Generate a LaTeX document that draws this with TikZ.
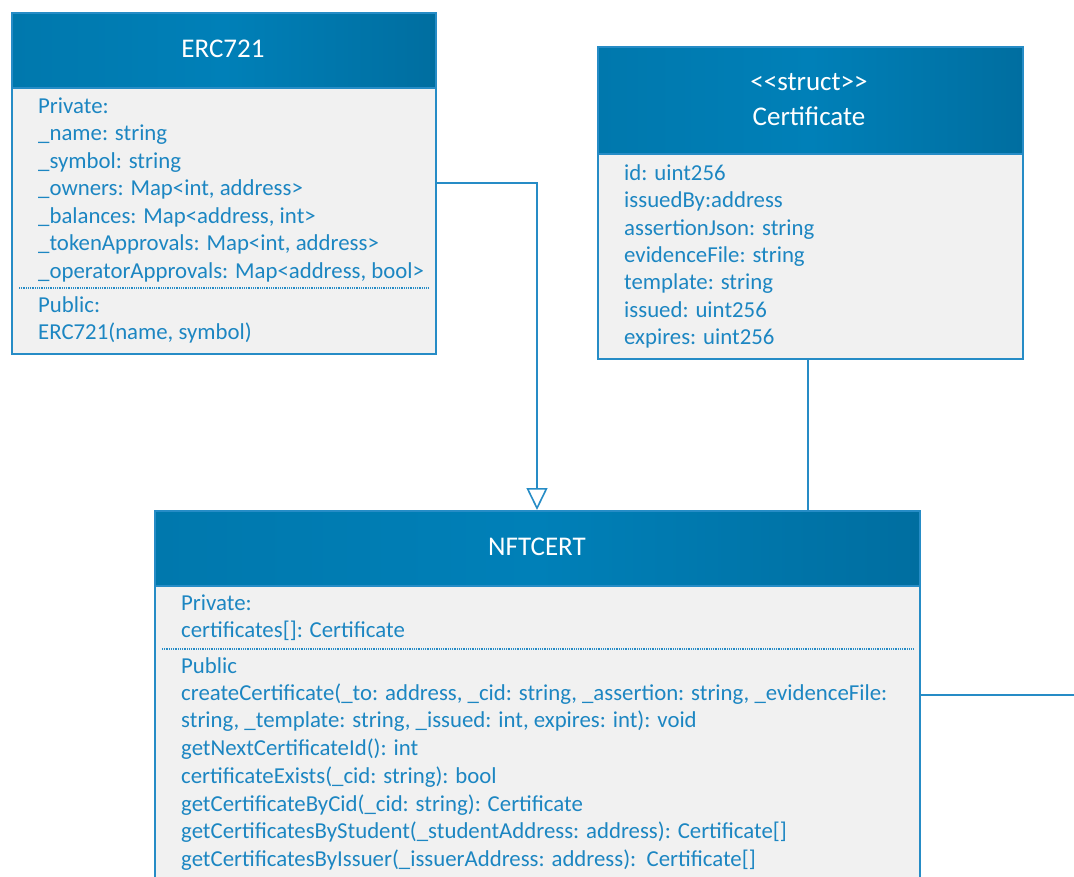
\documentclass[tikz,border=0pt]{standalone}
\usepackage{fontspec}
\setmainfont{Carlito}
\usetikzlibrary{arrows.meta}
\definecolor{umlblue}{RGB}{0,120,173}
\definecolor{umlbluelight}{RGB}{0,128,184}
\definecolor{umlbluedark}{RGB}{0,110,160}
\definecolor{umledge}{RGB}{38,140,198}
\definecolor{umltext}{RGB}{28,134,194}
\definecolor{umlbody}{RGB}{241,241,241}
\tikzset{
  classhead/.style={draw=umledge, line width=1.6pt, left color=umlblue, right color=umlbluedark, middle color=umlbluelight,
    anchor=north west, inner sep=0pt},
  classbody/.style={draw=umledge, line width=1.6pt, fill=umlbody, anchor=north west, inner sep=0pt},
  member/.style={anchor=base west, inner sep=0pt, text=umltext, font=\fontsize{22.8}{27}\selectfont},
  headtext/.style={anchor=base, inner sep=0pt, text=white, font=\fontsize{27}{32}\selectfont},
  sep/.style={draw=umledge, line width=1.5pt, dash pattern=on 0.9pt off 0.9pt},
  link/.style={draw=umledge, line width=1.6pt},
  inherit/.style={link, -{Triangle[open, length=22pt, width=21pt, fill=white]}}
}
\begin{document}
\begin{tikzpicture}[x=1pt, y=-1pt]
\useasboundingbox (0,0) rectangle (1074,876);
\clip (0,0) rectangle (1074,876);
\fill[white] (0,0) rectangle (1074,876);

% ---- ERC721 ----
\node[classbody, minimum width=424pt, minimum height=266pt] (ercB) at (11,87) {};
\node[classhead, minimum width=424pt, minimum height=75pt] (ercH) at (11,12) {};
\node[headtext] (ercT) at (223,57) {ERC721};
\node[member] (erc1) at (38,113) {Private:};
\node[member] (erc2) at (38,140) {\_name: string};
\node[member] (erc3) at (38,168) {\_symbol: string};
\node[member] (erc4) at (38,195) {\_owners: Map<int, address>};
\node[member] (erc5) at (38,223) {\_balances: Map<address, int>};
\node[member] (erc6) at (38,250) {\_tokenApprovals: Map<int, address>};
\node[member] (erc7) at (38,278) {\_operatorApprovals: Map<address, bool>};
\draw[sep] (19,288) -- (428,288);
\node[member] (erc8) at (38,312) {Public:};
\node[member] (erc9) at (38,339) {ERC721(name, symbol)};

% ---- Certificate struct ----
\node[classbody, minimum width=425pt, minimum height=205pt] (cerB) at (597,153) {};
\node[classhead, minimum width=425pt, minimum height=107pt] (cerH) at (597,46) {};
\node[headtext] (cerS) at (809,90) {<{}<struct>{}>};
\node[headtext] (cerT) at (809,125) {Certificate};
\node[member] (cer1) at (624,180) {id: uint256};
\node[member] (cer2) at (624,207) {issuedBy:address};
\node[member] (cer3) at (624,235) {assertionJson: string};
\node[member] (cer4) at (624,262) {evidenceFile: string};
\node[member] (cer5) at (624,289) {template: string};
\node[member] (cer6) at (624,317) {issued: uint256};
\node[member] (cer7) at (624,344) {expires: uint256};

% ---- NFTCERT ----
\node[classbody, minimum width=765pt, minimum height=320pt] (nftB) at (154,585) {};
\node[classhead, minimum width=765pt, minimum height=75pt] (nftH) at (154,510) {};
\node[headtext] (nftT) at (537,555) {NFTCERT};
\node[member] (nft1) at (181,610) {Private:};
\node[member] (nft2) at (181,637) {certificates[]: Certificate};
\draw[sep] (162,649) -- (913,649);
\node[member] (nft3) at (181,673) {Public};
\node[member] (nft4) at (181,700) {createCertificate(\_to: address, \_cid: string, \_assertion: string, \_evidenceFile:};
\node[member] (nft5) at (181,727) {string, \_template: string, \_issued: int, expires: int): void};
\node[member] (nft6) at (181,755) {getNextCertificateId(): int};
\node[member] (nft7) at (181,783) {certificateExists(\_cid: string): bool};
\node[member] (nft8) at (181,811) {getCertificateByCid(\_cid: string): Certificate};
\node[member] (nft9) at (181,838) {getCertificatesByStudent(\_studentAddress: address): Certificate[]};
\node[member] (nft10) at (181,866) {getCertificatesByIssuer(\_issuerAddress: address):\ \ Certificate[]};

% ---- connectors ----
\coordinate (out) at (1080,695);
\draw[inherit] (ercB.east |- 0,183) -| (nftH.north -| 537,0);
\draw[link] (cerB.south -| 808,0) -- (nftH.north -| 808,0);
\draw[link] (nftB.east |- 0,695) -- (out);
\end{tikzpicture}
\end{document}
